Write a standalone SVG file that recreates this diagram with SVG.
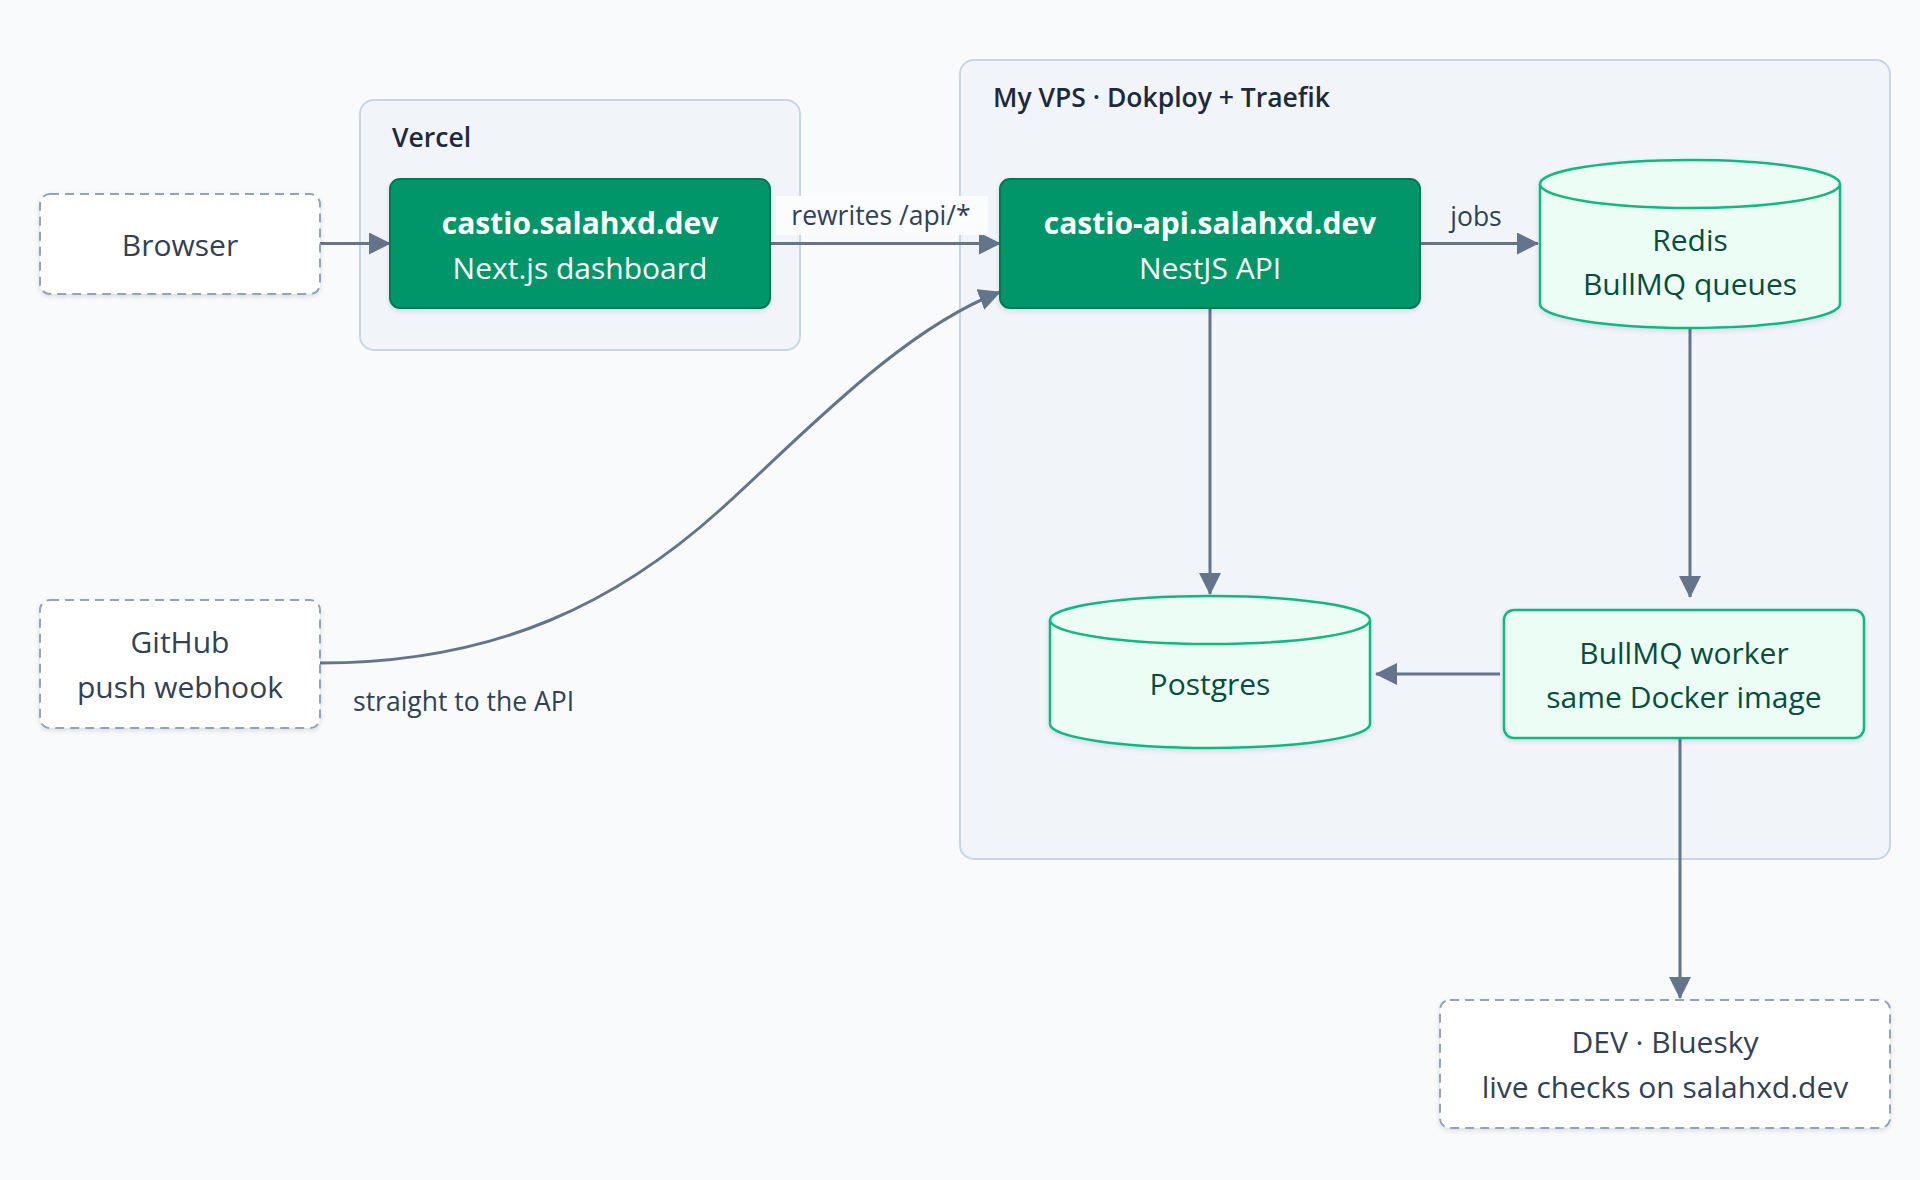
<svg xmlns="http://www.w3.org/2000/svg" width="1920" height="1180" viewBox="0 0 1920 1180">
<style>
  text { font-family: "Open Sans", "Noto Sans", "Liberation Sans", sans-serif; }
  .grp { fill: #f1f5f9; stroke: #cbd5e1; stroke-width: 2; }
  .glabel { font-size: 26.5px; font-weight: 600; fill: #1e293b; }
  .ext { fill: #ffffff; stroke: #94a3b8; stroke-width: 2; stroke-dasharray: 9 6; }
  .exttxt { font-size: 30px; fill: #334155; text-anchor: middle; }
  .app { fill: #059669; stroke: #047857; stroke-width: 2; }
  .apptxt { font-size: 30px; fill: #ffffff; text-anchor: middle; }
  .bold { font-weight: 700; }
  .store { fill: #ecfdf5; stroke: #10b981; stroke-width: 2.5; }
  .storetxt { font-size: 30px; fill: #064e3b; text-anchor: middle; }
  .edge { fill: none; stroke: #64748b; stroke-width: 3; marker-end: url(#arrow); }
  .elabel { font-size: 26.5px; fill: #334155; }
</style>
<defs>
  <marker id="arrow" markerUnits="userSpaceOnUse" viewBox="0 0 22 22" markerWidth="22" markerHeight="22" refX="21" refY="11" orient="auto">
    <path d="M0,0 L22,11 L0,22 z" fill="#64748b"/>
  </marker>
  <filter id="sh" x="-10%" y="-10%" width="120%" height="130%">
    <feDropShadow dx="0" dy="2" stdDeviation="2.5" flood-color="#0f172a" flood-opacity="0.12"/>
  </filter>
</defs>
<rect width="1920" height="1180" fill="#f8fafc"/>

<g id="group-vercel">
  <rect class="grp" x="360" y="100" width="440" height="250" rx="14"/>
  <text class="glabel" x="392" y="147">Vercel</text>
</g>
<g id="group-vps">
  <rect class="grp" x="960" y="60" width="930" height="799" rx="14"/>
  <text class="glabel" x="993" y="107">My VPS · Dokploy + Traefik</text>
</g>

<g id="connectors">
  <path class="edge" d="M320,243.5 L390,243.5"/>
  <path class="edge" d="M770,243.5 L1000,243.5"/>
  <rect x="776" y="196" width="212" height="39" fill="#fbfcfd"/>
  <text class="elabel" x="881" y="225" text-anchor="middle">rewrites /api/*</text>
  <path class="edge" d="M320,663 C500,663 620,600 720,510 C800,438 900,330 1000,292"/>
  <text class="elabel" x="353" y="711">straight to the API</text>
  <path class="edge" d="M1420,243.5 L1538,243.5"/>
  <text class="elabel" x="1476" y="226" text-anchor="middle">jobs</text>
  <path class="edge" d="M1210,308 L1210,594"/>
  <path class="edge" d="M1690,328 L1690,597"/>
  <path class="edge" d="M1500,674 L1376,674"/>
  <path class="edge" d="M1680,738 L1680,998"/>
</g>

<g id="node-browser">
  <rect class="ext" x="40" y="194" width="280" height="100" rx="10" filter="url(#sh)"/>
  <text class="exttxt" x="180" y="256">Browser</text>
</g>
<g id="node-github">
  <rect class="ext" x="40" y="600" width="280" height="128" rx="10" filter="url(#sh)"/>
  <text class="exttxt" x="180" y="653">GitHub</text>
  <text class="exttxt" x="180" y="698">push webhook</text>
</g>
<g id="node-web">
  <rect class="app" x="390" y="179" width="380" height="129" rx="10" filter="url(#sh)"/>
  <text class="apptxt bold" x="580" y="234">castio.salahxd.dev</text>
  <text class="apptxt" x="580" y="279">Next.js dashboard</text>
</g>
<g id="node-api">
  <rect class="app" x="1000" y="179" width="420" height="129" rx="10" filter="url(#sh)"/>
  <text class="apptxt bold" x="1210" y="234">castio-api.salahxd.dev</text>
  <text class="apptxt" x="1210" y="279">NestJS API</text>
</g>
<g id="node-redis">
  <path class="store" filter="url(#sh)" d="M1540,184 A150,24 0 0 1 1840,184 L1840,304 A150,24 0 0 1 1540,304 Z"/>
  <path class="store" d="M1540,184 A150,24 0 0 0 1840,184"/>
  <text class="storetxt" x="1690" y="251">Redis</text>
  <text class="storetxt" x="1690" y="295">BullMQ queues</text>
</g>
<g id="node-postgres">
  <path class="store" filter="url(#sh)" d="M1050,620 A160,24 0 0 1 1370,620 L1370,724 A160,24 0 0 1 1050,724 Z"/>
  <path class="store" d="M1050,620 A160,24 0 0 0 1370,620"/>
  <text class="storetxt" x="1210" y="695">Postgres</text>
</g>
<g id="node-worker">
  <rect class="store" x="1504" y="610" width="360" height="128" rx="10" filter="url(#sh)"/>
  <text class="storetxt" x="1684" y="664">BullMQ worker</text>
  <text class="storetxt" x="1684" y="708">same Docker image</text>
</g>
<g id="node-dev">
  <rect class="ext" x="1440" y="1000" width="450" height="128" rx="10" filter="url(#sh)"/>
  <text class="exttxt" x="1665" y="1053">DEV · Bluesky</text>
  <text class="exttxt" x="1665" y="1098">live checks on salahxd.dev</text>
</g>
</svg>
